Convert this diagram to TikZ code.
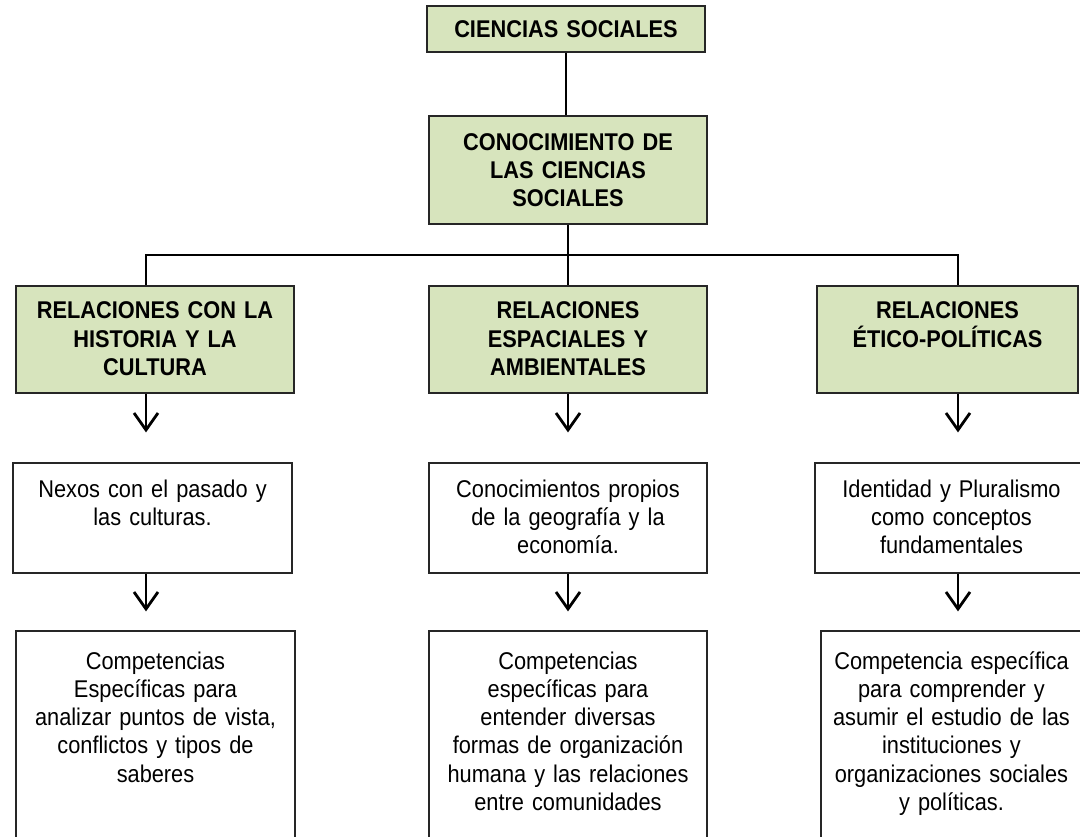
\documentclass[tikz,border=0pt]{standalone}
\usepackage{fontspec}
\setmainfont{Liberation Sans}[FakeStretch=0.9, WordSpace=0.8]
\usetikzlibrary{arrows.meta}
\definecolor{verde}{HTML}{D7E4BD}

\begin{document}
\begin{tikzpicture}
  [ x=1pt, y=-1pt
  , box/.style={draw=black!85, line width=1.2pt, shape=rectangle, text width=256pt,
                align=center, inner xsep=2pt, inner ysep=0pt, minimum width=278pt,
                font=\fontsize{24.2pt}{28.3pt}\selectfont}
  , gbox/.style={box, fill=verde, font=\fontsize{24.2pt}{28.3pt}\selectfont\bfseries}
  , wbox/.style={box, fill=white}
  , row3/.style={text height=33pt, text depth=74pt}
  , row4/.style={text height=34pt, text depth=76pt}
  , row5/.style={text height=38pt, text depth=192pt}
  , link/.style={line width=1.2pt}
  , arr/.style={line width=2.8pt, -{Straight Barb[length=17pt,width=24pt]}}
  ]
  \useasboundingbox (0,0) rectangle (1080,837);

  \node[gbox, minimum height=46pt]  (cs)    at (566,29)  {CIENCIAS SOCIALES};
  \node[gbox, minimum height=108pt] (conoc) at (568,170) {CONOCIMIENTO DE\\ LAS CIENCIAS\\ SOCIALES};

  % relaciones
  \node[gbox, row3]                     (rhist) at (155,339.5)   {RELACIONES CON LA\\ HISTORIA Y LA\\ CULTURA};
  \node[gbox, row3]                     (resp)  at (568,339.5)   {RELACIONES\\ ESPACIALES Y\\ AMBIENTALES};
  \node[gbox, row3, minimum width=261pt] (retic) at (947.5,339.5) {RELACIONES\\ ÉTICO-POLÍTICAS};

  % contenidos
  \node[wbox, row4, minimum width=279pt] (nexos) at (152.5,518) {Nexos con el pasado y\\ las culturas.};
  \node[wbox, row4]                      (conp)  at (568,518)   {Conocimientos propios\\ de la geografía y la\\ economía.};
  \node[wbox, row4, minimum width=273pt] (ident) at (951.5,518) {Identidad y Pluralismo\\ como conceptos\\ fundamentales};

  % competencias
  \node[wbox, row5, minimum width=279pt] (comph) at (155.5,746) {Competencias\\ Específicas para\\ analizar puntos de vista,\\ conflictos y tipos de\\ saberes};
  \node[wbox, row5]                      (compe) at (568,746)   {Competencias\\ específicas para\\ entender diversas\\ formas de organización\\ humana y las relaciones\\ entre comunidades};
  \node[wbox, row5, minimum width=261pt] (compp) at (951.5,746) {Competencia específica\\ para comprender y\\ asumir el estudio de las\\ instituciones y\\ organizaciones sociales\\ y políticas.};

  \coordinate (lft) at (146,255);
  \coordinate (rgt) at (958,255);

  \draw[link] (cs.south) -- (cs.south |- conoc.north);
  \draw[link] (conoc.south) -- (resp.north);
  \draw[link] (rhist.north -| lft) |- (rgt) -- (retic.north -| rgt);

  \draw[arr, shorten >=30pt] (rhist.south -| lft) -- (nexos.north -| lft);
  \draw[arr, shorten >=30pt] (resp.south)         -- (conp.north);
  \draw[arr, shorten >=30pt] (retic.south -| rgt) -- (ident.north -| rgt);

  \draw[arr, shorten >=19pt] (nexos.south -| lft) -- (comph.north -| lft);
  \draw[arr, shorten >=19pt] (conp.south)         -- (compe.north);
  \draw[arr, shorten >=19pt] (ident.south -| rgt) -- (compp.north -| rgt);

\end{tikzpicture}
\end{document}
